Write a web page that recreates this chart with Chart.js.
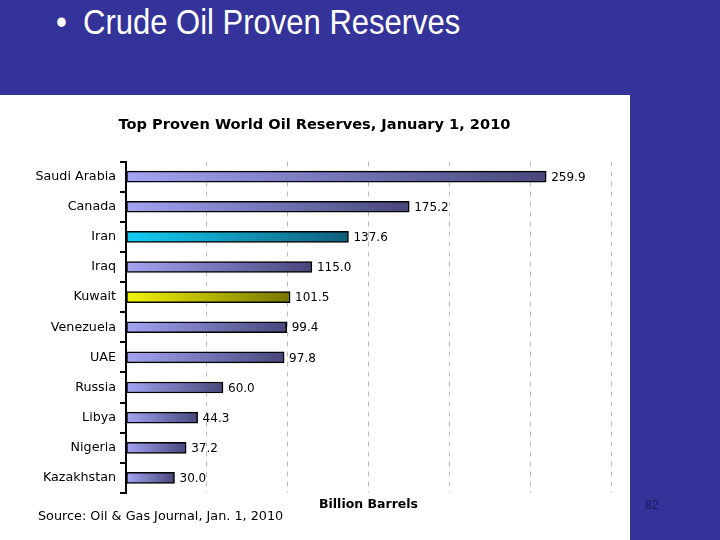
<!DOCTYPE html>
<html>
<head>
<meta charset="utf-8">
<script src="https://cdn.jsdelivr.net/npm/chart.js@4/dist/chart.umd.min.js"></script>
<style>
  html, body { margin: 0; padding: 0; }
  body { width: 720px; height: 540px; background: #333399; position: relative; overflow: hidden; font-family: "Liberation Sans", Arial, sans-serif; }
  #heading { position: absolute; left: 56px; top: 3px; color: #fff; font-size: 31px; white-space: nowrap; transform: scaleY(1.12); transform-origin: 0 0; }
  #heading span { display: inline-block; width: 27px; }
  #panel { position: absolute; left: 0; top: 95px; width: 630px; height: 445px; background: #fff; }
  #source { position: absolute; left: 38px; top: 413px; font-family: "DejaVu Sans", sans-serif; font-size: 12.8px; color: #000; }
  #page { position: absolute; left: 645px; top: 498px; font-size: 12px; color: #1a1a5a; }
</style>
</head>
<body>
<div id="heading"><span>•</span>Crude Oil Proven Reserves</div>
<div id="panel">
  <canvas id="chart" width="630" height="445"></canvas>
  <div id="source">Source: Oil &amp; Gas Journal, Jan. 1, 2010</div>
</div>
<div id="page">82</div>
<script>
// data
const countries = ['Saudi Arabia', 'Canada', 'Iran', 'Iraq', 'Kuwait', 'Venezuela', 'UAE', 'Russia', 'Libya', 'Nigeria', 'Kazakhstan'];
const reserves = [259.9, 175.2, 137.6, 115.0, 101.5, 99.4, 97.8, 60.0, 44.3, 37.2, 30.0];

// bar colour ramps, left to right
const defaultRamp = ['#a4a4f4', '#47477c'];
const highlight = { 'Iran': ['#14cdf4', '#0f5f7c'], 'Kuwait': ['#f4f400', '#767600'] };

function barFill(context) {
    const chart = context.chart;
    const x = chart.scales.x;
    const ramp = highlight[countries[context.dataIndex]] || defaultRamp;
    if (!x || context.dataIndex === undefined) return ramp[0];
    const x0 = x.getPixelForValue(0);
    const x1 = x.getPixelForValue(reserves[context.dataIndex]);
    if (!isFinite(x0) || !isFinite(x1) || x1 <= x0) return ramp[0];
    const g = chart.ctx.createLinearGradient(x0, 0, x1, 0);
    g.addColorStop(0, ramp[0]);
    g.addColorStop(1, ramp[1]);
    return g;
}

// writes the value next to the end of each bar
const valueLabels = {
    id: 'valueLabels',
    afterDatasetsDraw(chart) {
        const ctx = chart.ctx;
        const meta = chart.getDatasetMeta(0);
        ctx.save();
        ctx.font = '12px "DejaVu Sans", sans-serif';
        ctx.fillStyle = '#000';
        ctx.textBaseline = 'middle';
        meta.data.forEach((bar, i) => {
            ctx.fillText(reserves[i].toFixed(1), bar.x + 5, bar.y + 1);
        });
        ctx.restore();
    }
};

const ctx = document.getElementById('chart').getContext('2d');
new Chart(ctx, {
    type: 'bar',
    data: {
        labels: countries,
        datasets: [{
            data: reserves,
            backgroundColor: barFill,
            borderColor: '#000',
            borderWidth: 1.5,
            borderSkipped: false,
            barThickness: 11
        }]
    },
    options: {
        indexAxis: 'y',
        responsive: false,
        animation: false,
        layout: { padding: { left: 18, right: 19, top: 0, bottom: 28 } },
        plugins: {
            legend: { display: false },
            tooltip: { enabled: false },
            title: {
                display: true,
                text: 'Top Proven World Oil Reserves, January 1, 2010',
                color: '#000',
                font: { family: '"DejaVu Sans", sans-serif', size: 14.6, weight: 'bold' },
                padding: { top: 21, bottom: 28 }
            }
        },
        scales: {
            x: {
                min: 0,
                max: 300,
                ticks: { display: false, stepSize: 50 },
                border: { display: false, dash: [5, 5] },
                grid: { color: '#bbbbbb', drawTicks: false },
                title: {
                    display: true,
                    text: 'Billion Barrels',
                    color: '#000',
                    font: { family: '"DejaVu Sans", sans-serif', size: 12.5, weight: 'bold' },
                    padding: { top: 4, bottom: 0 }
                }
            },
            y: {
                afterFit(scale) { scale.width = 108; },
                ticks: {
                    color: '#000',
                    font: { family: '"DejaVu Sans", sans-serif', size: 12.7 },
                    padding: 4
                },
                border: { display: true, color: '#000', width: 2 },
                grid: { drawOnChartArea: false, tickLength: 6, color: '#000', lineWidth: 2 }
            }
        }
    },
    plugins: [valueLabels]
});
</script>
</body>
</html>
